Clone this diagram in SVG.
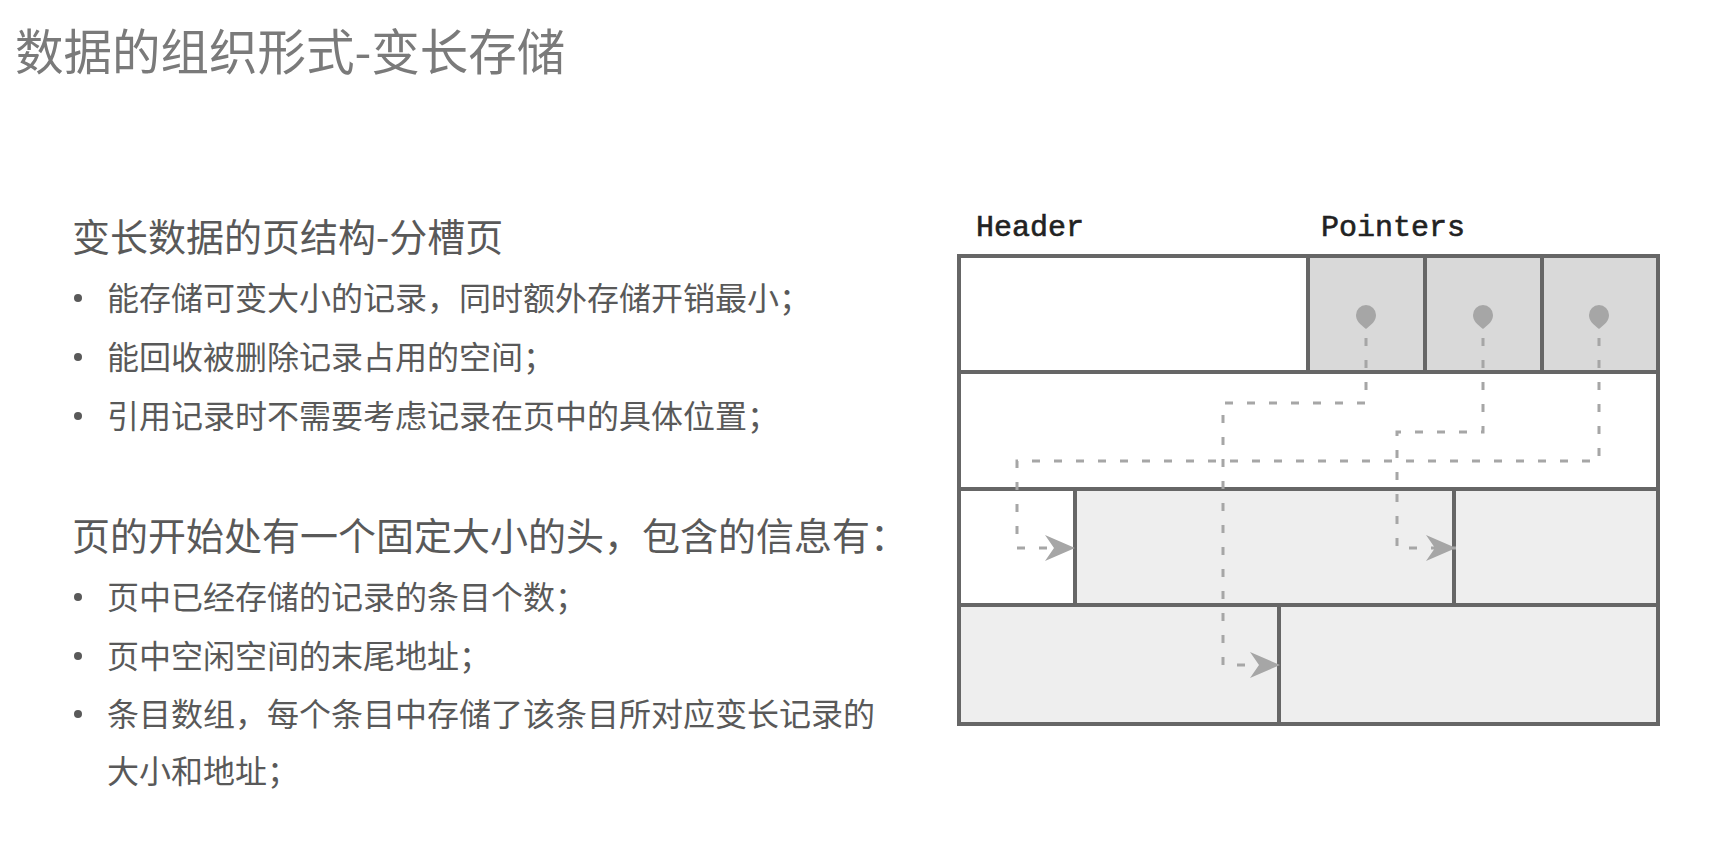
<svg xmlns="http://www.w3.org/2000/svg" width="1715" height="855" viewBox="0 0 1715 855">
<defs>
<style>
.title{font-family:"Noto Sans CJK SC","Noto Sans",sans-serif;font-size:48.5px;fill:#7a7a7a}
.h{font-family:"Noto Sans CJK SC","Noto Sans",sans-serif;font-size:38px;fill:#595959}
.b{font-family:"Noto Sans CJK SC","Noto Sans",sans-serif;font-size:32px;fill:#595959}
.dot{fill:#595959}
.mono{font-family:"Liberation Mono","DejaVu Sans Mono",monospace;font-size:30px;fill:#222;stroke:#222;stroke-width:0.6}
.cell{stroke:#666;stroke-width:4}
.w{fill:#fff}
.g{fill:#d9d9d9}
.lg{fill:#eeeeee}
.pin{fill:#a6a6a6}
.link{fill:none;stroke:#a6a6a6;stroke-width:3;stroke-dasharray:8 14}
</style>
<marker id="arr" markerUnits="userSpaceOnUse" viewBox="0 0 30 26" markerWidth="30" markerHeight="26" refX="30" refY="13" orient="auto">
<path d="M0,0 L30,13 L0,26 L9,13 Z" fill="#a6a6a6"/>
</marker>
</defs>
<rect width="1715" height="855" fill="#fff"/>
<g id="title"><text class="title" x="15" y="70">数据的组织形式-变长存储</text></g>
<g id="text-left">
<text class="h" x="72" y="251">变长数据的页结构-分槽页</text>
<circle class="dot" cx="78" cy="298" r="4"/>
<text class="b" x="107" y="310">能存储可变大小的记录，同时额外存储开销最小；</text>
<circle class="dot" cx="78" cy="357" r="4"/>
<text class="b" x="107" y="369">能回收被删除记录占用的空间；</text>
<circle class="dot" cx="78" cy="416" r="4"/>
<text class="b" x="107" y="428">引用记录时不需要考虑记录在页中的具体位置；</text>
<text class="h" x="72" y="550">页的开始处有一个固定大小的头，包含的信息有：</text>
<circle class="dot" cx="78" cy="597" r="4"/>
<text class="b" x="107" y="609">页中已经存储的记录的条目个数；</text>
<circle class="dot" cx="78" cy="656" r="4"/>
<text class="b" x="107" y="668">页中空闲空间的末尾地址；</text>
<circle class="dot" cx="78" cy="714" r="4"/>
<text class="b" x="107" y="726">条目数组，每个条目中存储了该条目所对应变长记录的</text>
<text class="b" x="107" y="783">大小和地址；</text>
</g>
<g id="labels">
<text class="mono" x="976" y="236">Header</text>
<text class="mono" x="1321" y="236">Pointers</text>
</g>
<g id="header-cell"><rect class="cell w" x="959" y="256" width="349" height="116"/></g>
<g id="pointer-1"><rect class="cell g" x="1308" y="256" width="117" height="116"/></g>
<g id="pointer-2"><rect class="cell g" x="1425" y="256" width="117" height="116"/></g>
<g id="pointer-3"><rect class="cell g" x="1542" y="256" width="116" height="116"/></g>
<g id="free-space"><rect class="cell w" x="959" y="372" width="699" height="117"/></g>
<g id="row3-a"><rect class="cell w" x="959" y="489" width="116" height="116"/></g>
<g id="record-1"><rect class="cell lg" x="1075" y="489" width="379" height="116"/></g>
<g id="record-2"><rect class="cell lg" x="1454" y="489" width="204" height="116"/></g>
<g id="record-3"><rect class="cell lg" x="959" y="605" width="320" height="119"/></g>
<g id="record-4"><rect class="cell lg" x="1279" y="605" width="379" height="119"/></g>
<g id="connectors">
<path class="link" d="M1366,338 V403 H1223 V665 H1280" marker-end="url(#arr)"/>
<path class="link" d="M1483,338 V432 H1397 V548 H1456" marker-end="url(#arr)"/>
<path class="link" d="M1599,338 V461 H1017 V548 H1075" marker-end="url(#arr)"/>
<path class="pin" d="M1356,315 a10,10 0 1 1 20,0 c0,6 -4,9 -10,14 c-6,-5 -10,-8 -10,-14 Z"/>
<path class="pin" d="M1473,315 a10,10 0 1 1 20,0 c0,6 -4,9 -10,14 c-6,-5 -10,-8 -10,-14 Z"/>
<path class="pin" d="M1589,315 a10,10 0 1 1 20,0 c0,6 -4,9 -10,14 c-6,-5 -10,-8 -10,-14 Z"/>
</g>
</svg>
